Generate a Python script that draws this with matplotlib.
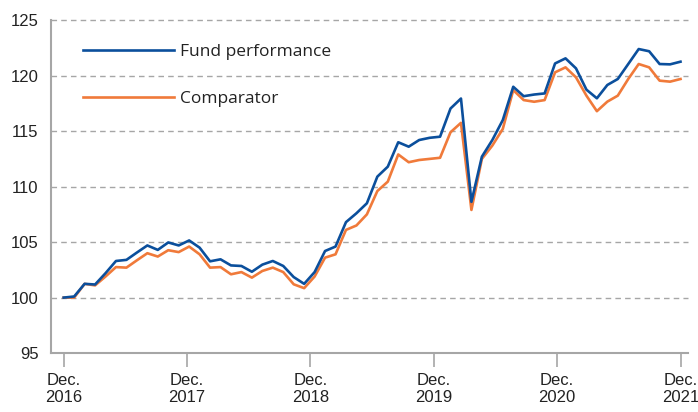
import numpy as np
import matplotlib
matplotlib.use("Agg")
import matplotlib.pyplot as plt

# monthly index values, Dec. 2016 = 100
fund = [100.0, 100.1, 101.24, 101.18, 102.2, 103.3, 103.4, 104.06, 104.7, 104.3,
        104.97, 104.7, 105.15, 104.5, 103.27, 103.45, 102.9, 102.85, 102.33, 102.97,
        103.3, 102.85, 101.85, 101.24, 102.3, 104.2, 104.6, 106.8, 107.6, 108.5,
        110.9, 111.8, 114.0, 113.6, 114.2, 114.4, 114.5, 117.04, 117.94, 108.63,
        112.7, 114.2, 116.0, 119.0, 118.15, 118.3, 118.4, 121.1, 121.56, 120.66,
        118.74, 117.96, 119.16, 119.7, 121.05, 122.4, 122.2, 121.05, 121.02, 121.26]
comparator = [100.0, 100.0, 101.24, 101.1, 101.9, 102.75, 102.7, 103.36, 104.0, 103.7,
              104.27, 104.1, 104.6, 103.9, 102.7, 102.75, 102.1, 102.3, 101.8, 102.4,
              102.7, 102.3, 101.2, 100.85, 101.9, 103.6, 103.9, 106.1, 106.5, 107.5,
              109.6, 110.45, 112.9, 112.2, 112.4, 112.5, 112.6, 114.9, 115.75, 107.9,
              112.5, 113.7, 115.2, 118.7, 117.8, 117.65, 117.8, 120.3, 120.75, 119.85,
              118.2, 116.8, 117.66, 118.2, 119.7, 121.05, 120.75, 119.55, 119.46, 119.7]
tick_labels = ["Dec.\n2016", "Dec.\n2017", "Dec.\n2018", "Dec.\n2019", "Dec.\n2020", "Dec.\n2021"]
y_ticks = [95, 100, 105, 110, 115, 120, 125]

blue = "#0b4f9c"
orange = "#f07a3a"
grey = "#a6a6a6"

plt.rcParams['font.family'] = ['Liberation Sans', 'DejaVu Sans']

fig = plt.figure(figsize=(6.98, 4.12), dpi=100)
ax = fig.add_axes([0.073, 0.143, 0.913, 0.808])

# spread the points over the five years
x = np.linspace(0, 60, len(fund))
ax.plot(x, fund, color=blue, lw=1.9, label="Fund performance", zorder=3)
ax.plot(x, comparator, color=orange, lw=1.9, label="Comparator", zorder=2)

ax.set_xlim(-1.24, 60.75)
ax.set_ylim(95, 125)
ax.set_yticks(y_ticks)
ax.set_xticks(np.arange(0, 61, 12))
ax.set_xticklabels(tick_labels)

for v in y_ticks[1:]:
    ax.axhline(v, color=grey, lw=1.0, ls=(0, (4, 3)), zorder=1, clip_on=False)

for s in ["top", "right"]:
    ax.spines[s].set_visible(False)
for s in ["left", "bottom"]:
    ax.spines[s].set_color(grey)
    ax.spines[s].set_linewidth(1.5)

ax.tick_params(axis="y", length=0, pad=9, labelsize=12, labelcolor="#222222")
ax.tick_params(axis="x", length=10, width=1.2, color=grey, pad=4,
               labelsize=12, labelcolor="#222222")

leg = ax.legend(loc="upper left", bbox_to_anchor=(0.025, 0.975), frameon=False,
                handlelength=5.25, handletextpad=0.35, labelspacing=1.78,
                prop={"family": "Open Sans", "size": 12.5})
for t in leg.get_texts():
    t.set_color("#222222")

fig.savefig("out.png", dpi=100)
